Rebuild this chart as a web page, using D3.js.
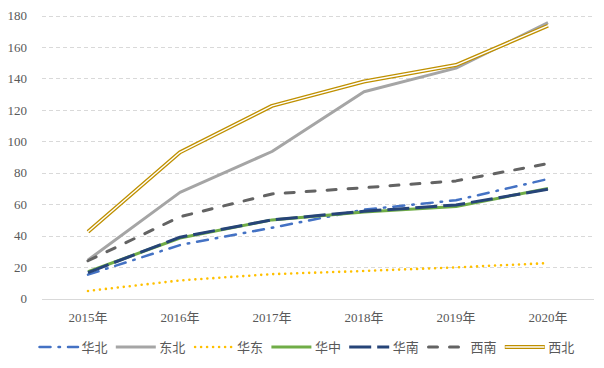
<!DOCTYPE html>
<html>
<head>
<meta charset="utf-8">
<script src="https://cdn.jsdelivr.net/npm/d3@7"></script>
<style>
  body { margin: 0; background: #fff; }
  svg { display: block; }
</style>
</head>
<body>
<svg width="604" height="368"></svg>
<script>
const years = ['2015年', '2016年', '2017年', '2018年', '2019年', '2020年']
const yTicks = [0, 20, 40, 60, 80, 100, 120, 140, 160, 180]

// region values
const huabei = [15.2, 34, 45, 56.5, 62.5, 76]
const dongbei = [24.5, 67.5, 93.5, 131.5, 146.5, 175.5]
const huadong = [4.8, 11.5, 15.5, 17.5, 19.8, 22.5]
const huazhong = [17, 38.5, 50, 55, 58.5, 70]
const huanan = [16.5, 39, 50, 55.5, 59.5, 69.5]
const xinan = [24, 52, 66.5, 70.5, 74.8, 85.8]
const xibei = [42.5, 93, 122.5, 138, 148.5, 173.5]

const series = [
  { name: '华北', values: huabei, color: '#4472C4', width: 2.5, dash: '11,8,1.5,8', cap: 'round' },
  { name: '东北', values: dongbei, color: '#A5A5A5', width: 3, dash: null, cap: 'butt' },
  { name: '华东', values: huadong, color: '#FFC000', width: 2.6, dash: '0,6', cap: 'round' },
  { name: '华中', values: huazhong, color: '#70AD47', width: 3, dash: null, cap: 'butt' },
  { name: '华南', values: huanan, color: '#264478', width: 3, dash: '22,6', cap: 'butt' },
  { name: '西南', values: xinan, color: '#636363', width: 3, dash: '9,12', cap: 'round' },
  { name: '西北', values: xibei, color: '#BF9000', width: 4, dash: null, cap: 'butt', double: true }
]

const margin = { top: 15.5, right: 10, bottom: 69.5, left: 42 }
const width = 604
const height = 368

const svg = d3.select('svg')

const xScale = d3.scaleBand()
  .domain(years)
  .range([margin.left, width - margin.right])
  .padding(0)

const yScale = d3.scaleLinear()
  .domain([0, 180])
  .range([height - margin.bottom, margin.top])

const cx = d => xScale(d) + xScale.bandwidth() / 2

// gridlines
svg.append('g')
  .selectAll('line')
  .data(yTicks)
  .enter().append('line')
  .attr('x1', margin.left)
  .attr('x2', width - margin.right)
  .attr('y1', d => Math.round(yScale(d)) + 0.5)
  .attr('y2', d => Math.round(yScale(d)) + 0.5)
  .attr('stroke', '#D9D9D9')
  .attr('stroke-width', 1)
  .attr('stroke-dasharray', d => d === 0 ? null : '4,3')

// y axis labels
const yAxis = d3.axisLeft(yScale)
  .tickValues(yTicks)
  .tickSize(0)
  .tickPadding(0)

svg.append('g')
  .attr('transform', `translate(${[27, 0]})`)
  .call(yAxis)
  .call(g => g.select('.domain').remove())
  .selectAll('text')
  .attr('fill', '#595959')
  .style('font-family', '"Liberation Serif", "Noto Sans CJK SC", serif')
  .style('font-size', '13px')

// x axis labels
const xAxis = d3.axisBottom(xScale)
  .tickSize(0)
  .tickPadding(0)

svg.append('g')
  .attr('transform', `translate(${[0, 312.5]})`)
  .call(xAxis)
  .call(g => g.select('.domain').remove())
  .selectAll('text')
  .attr('fill', '#595959')
  .style('font-family', '"Liberation Serif", "Noto Sans CJK SC", serif')
  .style('font-size', '13px')

// lines
const line = d3.line()
  .x((d, i) => cx(years[i]))
  .y(d => yScale(d))

series.forEach(s => {
  svg.append('path')
    .datum(s.values)
    .attr('d', line)
    .attr('fill', 'none')
    .attr('stroke', s.color)
    .attr('stroke-width', s.width)
    .attr('stroke-dasharray', s.dash)
    .attr('stroke-linecap', s.cap)
    .attr('stroke-linejoin', 'round')
  if (s.double) {
    svg.append('path')
      .datum(s.values)
      .attr('d', line)
      .attr('fill', 'none')
      .attr('stroke', '#fff')
      .attr('stroke-width', 1.4)
      .attr('stroke-linejoin', 'round')
  }
})

// legend
const legend = svg.append('g')
  .attr('transform', `translate(${[38, 347]})`)

series.forEach((s, i) => {
  const g = legend.append('g')
    .attr('transform', `translate(${[i * 77.8, 0]})`)
  g.append('line')
    .attr('x1', s.cap === 'round' ? 1.5 : 0)
    .attr('x2', 40)
    .attr('stroke', s.color)
    .attr('stroke-width', s.width)
    .attr('stroke-dasharray', s.dash)
    .attr('stroke-linecap', s.cap)
  if (s.double) {
    g.append('line')
      .attr('x1', 0.5)
      .attr('x2', 39.5)
      .attr('stroke', '#fff')
      .attr('stroke-width', 1.4)
  }
  g.append('text')
    .attr('x', 43.5)
    .attr('y', 0)
    .attr('dy', '0.35em')
    .attr('fill', '#595959')
    .style('font-family', '"Noto Sans CJK SC", sans-serif')
    .style('font-size', '13px')
    .text(s.name)
})
</script>
</body>
</html>
